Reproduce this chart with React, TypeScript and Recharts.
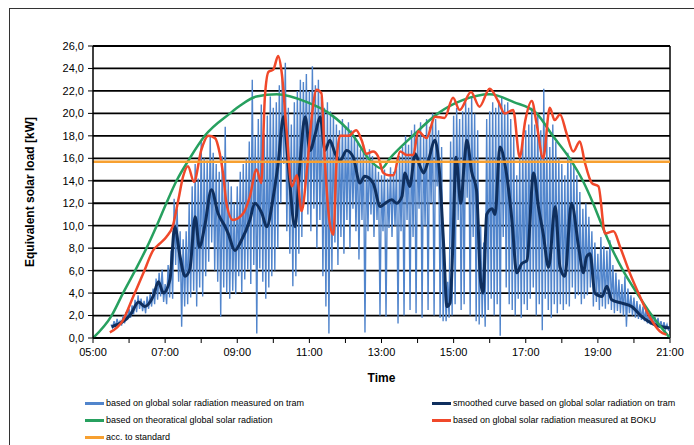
import { LineChart, Line, XAxis, YAxis, CartesianGrid, ReferenceLine } from 'recharts';

// x axis: hours of the day, labels every 2 h, ticks every hour
const hourTicks = [5, 6, 7, 8, 9, 10, 11, 12, 13, 14, 15, 16, 17, 18, 19, 20, 21];
const loadTicks = [0, 2, 4, 6, 8, 10, 12, 14, 16, 18, 20, 22, 24, 26];

// raw tram measurement, one value every 2.5 min starting 05:30
const tramStart = '05:30';
const tramStepMin = 2.5;
const tramRaw = [
  1.2, 0.9, 1.5, 1.0, 1.7, 1.2, 1.5, 1.1, 2.0, 1.3, 2.3, 1.6,
  2.6, 1.8, 2.9, 2.1, 3.4, 2.3, 3.8, 2.6, 3.5, 2.4, 3.3, 2.2, 3.7, 2.6, 3.9, 2.8, 4.4, 3.0, 5.3, 3.4, 5.8, 3.7, 6.1, 3.2,
  4.8, 3.0, 6.5, 3.6, 7.8, 3.5, 12.4, 6.5, 11.5, 5.0, 9.5, 1.0, 8.8, 2.8, 9.5, 3.0, 12.0, 3.6, 13.5, 4.2, 15.5, 2.8, 14.2, 4.5,
  17.6, 3.7, 16.0, 5.5, 15.8, 6.8, 17.9, 8.5, 16.5, 6.0, 15.5, 5.0, 14.8, 1.9, 16.2, 4.5, 18.8, 4.0, 14.0, 3.5, 13.5, 4.2, 12.0, 3.9,
  13.5, 5.5, 14.8, 4.0, 15.5, 5.2, 16.0, 6.1, 17.5, 4.8, 23.0, 6.5, 18.0, 0.4, 19.5, 6.2, 20.8, 5.0, 18.2, 3.5, 19.8, 4.5, 21.5, 5.5,
  20.5, 6.0, 21.0, 8.0, 22.5, 12.0, 23.5, 15.5, 24.5, 9.5, 20.5, 7.5, 19.0, 4.6, 21.0, 5.5, 22.0, 7.5, 23.0, 9.0, 22.8, 13.5, 23.5, 11.0,
  22.0, 9.5, 24.2, 11.5, 22.5, 8.0, 23.0, 10.5, 21.5, 5.5, 20.5, 2.8, 21.0, 0.4, 20.2, 6.0, 19.8, 8.5, 19.0, 6.5, 18.5, 9.0, 19.5, 7.5,
  18.8, 10.5, 19.2, 8.0, 18.5, 11.5, 18.0, 9.5, 17.5, 7.0, 16.8, 10.5, 17.2, 0.5, 16.5, 9.5, 16.8, 11.0, 16.2, 9.0, 15.5, 10.5, 14.8, 2.0,
  14.5, 9.5, 15.0, 1.9, 14.2, 9.8, 15.2, 9.0, 14.8, 10.0, 15.5, 1.3, 16.2, 9.5, 17.0, 2.0, 18.0, 10.5, 17.2, 2.5, 18.5, 9.0, 19.0, 2.2,
  18.2, 11.5, 19.2, 1.8, 18.0, 10.0, 19.5, 2.5, 18.8, 12.0, 20.0, 2.0, 19.5, 13.5, 18.5, 1.8, 17.0, 1.5, 6.5, 1.5, 5.0, 1.8, 17.5, 2.0,
  19.8, 3.0, 20.5, 10.5, 19.5, 2.5, 20.2, 3.0, 21.0, 12.5, 20.5, 2.0, 21.5, 9.0, 20.0, 1.5, 18.5, 1.2, 10.0, 1.8, 8.5, 1.0, 19.5, 2.5,
  20.2, 3.5, 21.0, 2.0, 20.5, 3.0, 21.2, 0.2, 21.5, 9.0, 20.8, 4.5, 21.0, 3.0, 19.5, 2.5, 18.0, 2.0, 14.5, 3.5, 16.0, 1.8, 17.5, 3.0,
  18.5, 2.5, 19.0, 3.5, 20.5, 4.5, 19.0, 2.0, 20.0, 3.0, 18.5, 0.7, 22.2, 3.5, 18.0, 2.5, 17.0, 1.8, 19.0, 3.0, 17.5, 2.2, 16.0, 3.0,
  15.5, 2.5, 14.5, 3.0, 16.5, 2.8, 16.0, 4.5, 15.5, 3.5, 14.5, 3.8, 13.0, 3.0, 11.5, 3.5, 12.0, 3.8, 10.8, 4.5, 9.5, 2.8, 8.5, 3.2,
  7.5, 2.5, 9.0, 2.8, 8.2, 2.6, 7.8, 3.0, 8.7, 2.5, 6.5, 2.2, 5.8, 2.4, 5.2, 2.2, 4.8, 2.0, 5.5, 1.0, 4.4, 2.2, 3.8, 2.0,
  3.6, 1.8, 3.3, 1.7, 3.0, 1.6, 2.8, 1.5, 2.6, 1.3, 2.2, 1.2, 2.0, 1.1, 1.9, 1.0, 1.8, 0.9, 1.5, 0.8, 1.4, 0.8, 1.2, 0.7,
  0.8,
];

// smoothed curve
const smoothTimes = [
  '05:31', '05:45', '06:02', '06:16', '06:26', '06:40', '06:49', '06:57', '07:08', '07:16', '07:25', '07:33', '07:41', '07:50', '07:57',
  '08:06', '08:17', '08:28', '08:40', '08:45', '08:56', '09:07', '09:21', '09:29', '09:41', '09:49', '10:00', '10:08', '10:17', '10:25',
  '10:36', '10:44', '10:53', '11:01', '11:10', '11:18', '11:26', '11:34', '11:43', '11:51', '12:02', '12:13', '12:24', '12:32', '12:46',
  '12:58', '13:06', '13:17', '13:25', '13:34', '13:39', '13:47', '13:56', '14:04', '14:10', '14:18', '14:29', '14:35', '14:43', '14:49',
  '14:54', '14:59', '15:04', '15:12', '15:18', '15:22', '15:30', '15:38', '15:45', '15:49', '15:55', '16:04', '16:09', '16:17', '16:26',
  '16:37', '16:45', '16:53', '17:02', '17:13', '17:21', '17:29', '17:38', '17:49', '17:57', '18:05', '18:16', '18:28', '18:36', '18:41',
  '18:47', '18:55', '19:07', '19:15', '19:23', '19:40', '19:56', '20:13', '20:30', '20:46', '21:00',
];
const smoothValues = [
  1.0, 1.3, 2.05, 3.2, 2.8, 3.7, 5.0, 4.0, 5.2, 9.9, 7.2, 5.5, 6.1, 10.8, 8.1,
  10.0, 13.2, 11.1, 9.9, 9.3, 7.8, 8.7, 10.5, 12.0, 11.1, 9.9, 12.6, 15.5, 19.7, 15.3,
  9.9, 15.3, 19.7, 16.7, 18.2, 19.7, 16.7, 17.6, 16.4, 15.8, 16.7, 16.1, 13.8, 14.4, 13.8,
  11.7, 12.0, 12.3, 12.0, 12.6, 14.7, 13.5, 16.4, 15.3, 14.7, 15.8, 17.6, 15.8, 8.7, 2.8,
  3.1, 8.7, 16.1, 12.0, 15.8, 17.6, 14.8, 13.2, 5.0, 4.0, 11.0, 11.5, 11.0, 17.0, 15.3,
  10.5, 5.8, 6.6, 6.9, 14.7, 11.7, 9.3, 6.3, 11.7, 6.3, 5.5, 12.0, 8.1, 5.8, 7.2,
  7.5, 4.0, 3.7, 4.6, 3.4, 3.1, 2.8, 1.9, 1.3, 1.0, 0.9,
];

// theoretical global solar radiation
const theoryTimes = [
  '05:00', '05:31', '05:50', '06:10', '06:29', '06:46', '07:02', '07:19', '07:41', '08:06', '08:48', '09:05', '09:32', '10:06',
  '10:56', '11:33', '12:13', '12:38', '13:00', '13:14', '13:52', '14:34', '15:16', '16:00', '16:40', '17:18', '17:45', '18:13',
  '18:35', '18:52', '19:07', '19:23', '19:42', '20:05', '20:30', '21:00',
];
const theoryValues = [
  0, 2, 4, 6, 8, 10, 12, 14, 16, 18, 20, 20.7, 21.5, 21.7,
  21.0, 20.0, 18, 16, 15.1, 16, 18, 20, 21.2, 21.7, 21.0, 20, 18, 16,
  14, 12, 10, 8, 6, 4, 2, 0,
];

// measured at BOKU
const bokuTimes = [
  '05:28', '05:50', '06:07', '06:24', '06:40', '06:51', '07:02', '07:13', '07:22', '07:30', '07:38', '07:48', '08:00', '08:12',
  '08:23', '08:31', '08:37', '08:42', '08:53', '09:10', '09:21', '09:32', '09:40', '09:46', '09:52', '10:00', '10:08', '10:14',
  '10:22', '10:31', '10:39', '10:47', '10:56', '11:04', '11:12', '11:20', '11:26', '11:34', '11:40', '11:45', '11:51', '12:05',
  '12:18', '12:27', '12:35', '12:46', '12:54', '13:03', '13:12', '13:20', '13:31', '13:42', '13:53', '14:01', '14:15', '14:29',
  '14:45', '14:59', '15:10', '15:29', '15:43', '16:00', '16:14', '16:25', '16:39', '16:50', '16:59', '17:10', '17:18', '17:29',
  '17:40', '17:48', '17:57', '18:08', '18:19', '18:30', '18:38', '18:50', '19:01', '19:12', '19:26', '19:37', '19:53', '20:10',
  '20:26', '20:43', '20:54',
];
const bokuValues = [
  0.5, 1.6, 3.7, 5.8, 7.8, 8.4, 9.0, 10.0, 12.3, 14.4, 15.3, 13.9, 16.7, 18.0,
  17.8, 16.4, 14.4, 12.0, 10.5, 11.1, 12.6, 15.0, 13.8, 21.5, 23.7, 23.9, 25.1, 23.6,
  18.5, 13.5, 14.5, 11.3, 15.0, 19.7, 22.1, 21.8, 15.5, 10.2, 9.2, 15.5, 18.0, 18.0,
  18.5, 17.6, 16.4, 16.6, 16.2, 14.7, 14.5, 14.5, 16.6, 16.3, 16.3, 18.4, 17.8, 19.7,
  19.6, 21.4, 20.3, 21.9, 20.6, 22.2, 21.1, 20.0, 20.3, 16.1, 19.3, 21.1, 19.1, 16.0,
  20.5, 19.4, 19.9, 18.2, 16.6, 17.5, 15.7, 13.8, 13.5, 9.3, 9.5, 8.1, 5.8, 3.7,
  1.9, 0.6, 0.3,
];

// acc. to standard
const standardTimes = ['05:00', '21:00'];
const standardValues = [15.7, 15.7];

const toHours = (s: string) => {
  const [h, m] = s.split(':').map(Number);
  return h + m / 60;
};
const pairs = (times: string[], values: number[]) => times.map((t, i) => ({ t: toHours(t), v: values[i] }));

const tramData = tramRaw.map((v, i) => ({ t: toHours(tramStart) + (i * tramStepMin) / 60, v }));
const smoothData = pairs(smoothTimes, smoothValues);
const theoryData = pairs(theoryTimes, theoryValues);
const bokuData = pairs(bokuTimes, bokuValues);
const standardData = pairs(standardTimes, standardValues);

const legendItems = [
  { label: 'based on global solar radiation measured on tram', color: '#5185cc', left: 85, top: 397 },
  { label: 'smoothed curve based on global solar radiation on tram', color: '#0f2f5e', left: 432, top: 397 },
  { label: 'based on theoratical global solar radiation', color: '#27a05f', left: 85, top: 414 },
  { label: 'based on global solar radiation measured at BOKU', color: '#f0482a', left: 432, top: 414 },
  { label: 'acc. to standard', color: '#f7a030', left: 85, top: 431 },
];

const fmtHour = (h: number) => (h % 2 === 1 ? `${String(h).padStart(2, '0')}:00` : '');

export default function App() {
  return (
    <div
      style={{
        position: 'absolute',
        left: 0,
        top: 0,
        width: 694,
        height: 445,
        background: '#fff',
        fontFamily: '"Liberation Sans", Arial, sans-serif',
        overflow: 'hidden',
      }}
    >
      <div style={{ position: 'absolute', left: 9, top: 8, width: 700, height: 450, borderLeft: '1px solid #333', borderTop: '1px solid #333' }} />
      <LineChart width={694} height={445} margin={{ top: 46, right: 24, left: 0, bottom: 60 }} style={{ position: 'absolute', left: 0, top: 0 }}>
        <CartesianGrid horizontal vertical={false} stroke="#000" strokeWidth={1.8} />
        <XAxis
          dataKey="t"
          type="number"
          domain={[5, 21]}
          ticks={hourTicks}
          tickFormatter={fmtHour}
          interval={0}
          height={47}
          tickSize={5}
          tickMargin={5}
          tick={{ fontSize: 11, fill: '#000' }}
          axisLine={{ stroke: '#000', strokeWidth: 1.5 }}
          tickLine={{ stroke: '#000' }}
          allowDataOverflow
          label={{ value: 'Time', position: 'insideBottom', offset: 3, style: { fontSize: 12, fontWeight: 'bold', fill: '#000' } }}
        />
        <YAxis
          type="number"
          domain={[0, 26]}
          ticks={loadTicks}
          interval={0}
          width={93}
          tickSize={5}
          tickMargin={4}
          tickFormatter={(v: number) => v.toFixed(1).replace('.', ',')}
          tick={{ fontSize: 11, fill: '#000' }}
          axisLine={{ stroke: '#000', strokeWidth: 1.5 }}
          tickLine={{ stroke: '#000' }}
          label={{
            value: 'Equivalent solar load [kW]',
            angle: -90,
            position: 'insideLeft',
            offset: 30,
            style: { textAnchor: 'middle', fontSize: 12, fontWeight: 'bold', fill: '#000' },
          }}
        />
        <ReferenceLine y={26} stroke="#000" strokeWidth={1.8} />
        <ReferenceLine x={21} stroke="#000" strokeWidth={1.5} />
        <Line data={tramData} dataKey="v" type="linear" stroke="#5185cc" strokeWidth={1.4} dot={false} isAnimationActive={false} />
        <Line data={smoothData} dataKey="v" type="monotone" stroke="#0f2f5e" strokeWidth={3} dot={false} isAnimationActive={false} />
        <Line data={theoryData} dataKey="v" type="monotone" stroke="#27a05f" strokeWidth={2.5} dot={false} isAnimationActive={false} />
        <Line data={bokuData} dataKey="v" type="monotone" stroke="#f0482a" strokeWidth={2.5} dot={false} isAnimationActive={false} />
        <Line data={standardData} dataKey="v" type="linear" stroke="#f7a030" strokeWidth={2.5} dot={false} isAnimationActive={false} />
      </LineChart>
      {legendItems.map((item) => (
        <div
          key={item.label}
          style={{ position: 'absolute', left: item.left, top: item.top, height: 12, display: 'flex', alignItems: 'center', fontSize: 9, color: '#000' }}
        >
          <span style={{ display: 'inline-block', width: 19, height: 3, background: item.color, marginRight: 2 }} />
          {item.label}
        </div>
      ))}
    </div>
  );
}
